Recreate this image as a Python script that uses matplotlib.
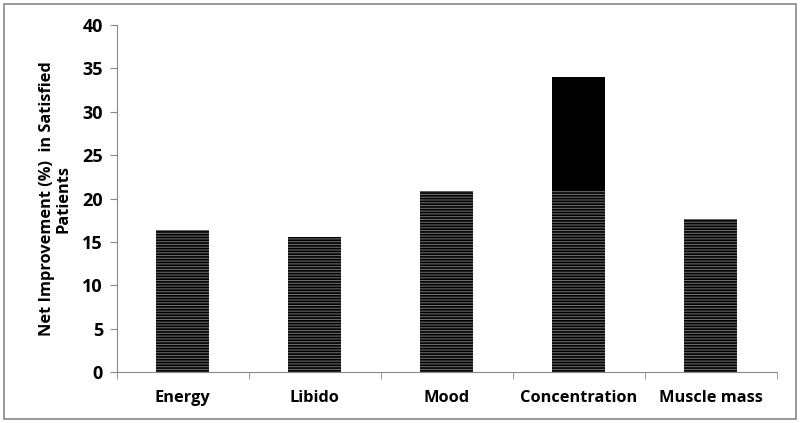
import numpy as np
import matplotlib.pyplot as plt
from matplotlib.patches import Rectangle

plt.rcParams['hatch.linewidth'] = 1.2
plt.rcParams['font.family'] = ['Open Sans', 'DejaVu Sans']
plt.rcParams['font.weight'] = 'bold'

categories = ["Energy", "Libido", "Mood", "Concentration", "Muscle mass"]
base = [16.4, 15.6, 20.9, 21.0, 17.6]
extra = [0, 0, 0, 13.0, 0]

fig = plt.figure(figsize=(8, 4.23), dpi=100)
ax = fig.add_axes([0.146, 0.12, 0.825, 0.821])

x = np.arange(len(categories))
ax.bar(x, base, width=0.4, facecolor="#6a6a6a", edgecolor="black", hatch="------", linewidth=0)
ax.bar(x, extra, bottom=base, width=0.4, color="black", linewidth=0)

ax.set_xlim(-0.5, len(categories) - 0.5)
ax.set_ylim(0, 40)
ax.set_yticks(range(0, 41, 5))
ax.set_xticks(x)
ax.set_xticklabels(categories, fontsize=11.8, fontweight="bold")
ax.set_xticks(np.arange(-0.5, len(categories)), minor=True)
ax.tick_params(axis="x", which="major", length=0, pad=13)
ax.tick_params(axis="x", which="minor", length=5, color="#888888", direction="out")
ax.tick_params(axis="y", length=5, color="#888888", labelsize=13, pad=5)
for lab in ax.get_yticklabels():
    lab.set_fontweight("bold")

for s in ["top", "right"]:
    ax.spines[s].set_visible(False)
for s in ["left", "bottom"]:
    ax.spines[s].set_color("#888888")

ax.set_ylabel("Net Improvement (%)  in Satisfied\nPatients", fontsize=11.8, fontweight="bold",
              labelpad=8, linespacing=1.0)

fig.patches.append(Rectangle((0.005, 0.01), 0.99, 0.98, transform=fig.transFigure,
                             fill=False, edgecolor="#888888", linewidth=1.2))

fig.savefig("out.png", dpi=100)
